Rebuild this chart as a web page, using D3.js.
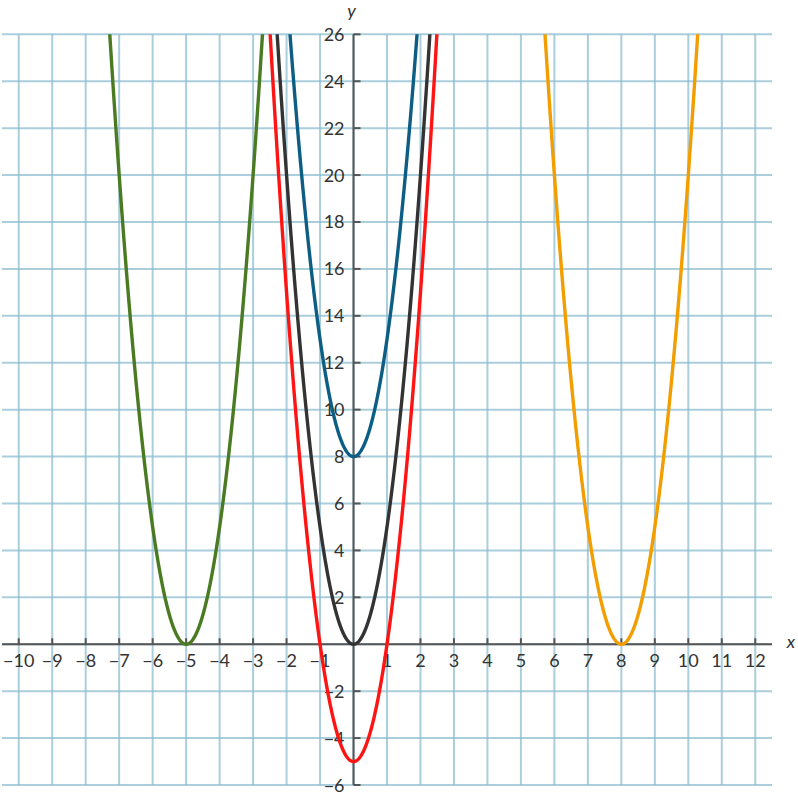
<!DOCTYPE html>
<html>
<head>
<meta charset="utf-8">
<script src="https://cdn.jsdelivr.net/npm/d3@7"></script>
<style>
  html, body { margin: 0; padding: 0; background: #fff; }
  svg { display: block; }
  text { font-family: Lato, "Open Sans", sans-serif; fill: #333; }
</style>
</head>
<body>
<div id="chart"></div>
<script>
// ---- data ----
const seriesNames = ["green", "red", "black", "blue", "orange"];
const vertexX = [-5, 0, 0, 0, 8];          // h in y = a(x-h)^2 + k
const vertexY = [0, -5, 0, 8, 0];          // k
const coefA   = [5, 5, 5, 5, 5];           // a
const seriesColors = ["#4a7a22", "#ff1414", "#333333", "#0d5e84", "#f29e00"];
const xTicks = [-10,-9,-8,-7,-6,-5,-4,-3,-2,-1,1,2,3,4,5,6,7,8,9,10,11,12];
const yTicks = [-6,-4,-2,2,4,6,8,10,12,14,16,18,20,22,24,26];
const xGrid = d3.range(-10, 13);
const yGrid = d3.range(-6, 27, 2);

const W = 798, H = 800;
const svg = d3.select("#chart").append("svg").attr("width", W).attr("height", H);

const x = d3.scaleLinear().domain([-10.5, 12.5]).range([2, 772]);
const y = d3.scaleLinear().domain([-6, 26]).range([785, 34.3]);

const fmt = v => (v < 0 ? "\u2212" : "") + Math.abs(v);

// grid
const grid = svg.append("g").attr("stroke", "#8dbdd0").attr("stroke-opacity", 0.75).attr("stroke-width", 2);
grid.selectAll("line.v").data(xGrid).join("line")
  .attr("x1", d => x(d)).attr("x2", d => x(d))
  .attr("y1", y(26)).attr("y2", y(-6));
grid.selectAll("line.h").data(yGrid).join("line")
  .attr("x1", x(-10.5)).attr("x2", x(12.5))
  .attr("y1", d => y(d)).attr("y2", d => y(d));

// axes
const axisColor = "#555";
svg.append("line").attr("x1", x(-10.5)).attr("x2", x(12.5)).attr("y1", y(0)).attr("y2", y(0))
  .attr("stroke", axisColor).attr("stroke-width", 2);
svg.append("line").attr("x1", x(0)).attr("x2", x(0)).attr("y1", y(26)).attr("y2", y(-6))
  .attr("stroke", axisColor).attr("stroke-width", 2);

svg.append("g").selectAll("line").data(xTicks).join("line")
  .attr("x1", d => x(d)).attr("x2", d => x(d)).attr("y1", y(0)).attr("y2", y(0) - 6)
  .attr("stroke", axisColor).attr("stroke-width", 2);
svg.append("g").selectAll("line").data(yTicks).join("line")
  .attr("x1", x(0)).attr("x2", x(0) + 7).attr("y1", d => y(d)).attr("y2", d => y(d))
  .attr("stroke", axisColor).attr("stroke-width", 2);

svg.append("g").selectAll("text").data(xTicks).join("text")
  .attr("x", d => x(d)).attr("y", y(0) + 23)
  .attr("text-anchor", "middle").attr("font-size", 18)
  .text(fmt);
svg.append("g").selectAll("text").data(yTicks).join("text")
  .attr("x", x(0) - 9).attr("y", d => y(d) + 6.5)
  .attr("text-anchor", "end").attr("font-size", 18)
  .text(fmt);

svg.append("text").attr("x", 791).attr("y", y(0) + 4).attr("text-anchor", "middle")
  .attr("font-size", 18).attr("font-style", "italic").text("x");
svg.append("text").attr("x", x(0) - 2).attr("y", 17).attr("text-anchor", "middle")
  .attr("font-size", 18).attr("font-style", "italic").text("y");

// curves
svg.append("defs").append("clipPath").attr("id", "clip").append("rect")
  .attr("x", x(-10.5)).attr("y", y(26)).attr("width", x(12.5) - x(-10.5)).attr("height", y(-6) - y(26));

const line = d3.line().x(d => x(d[0])).y(d => y(d[1]));
const curves = svg.append("g").attr("clip-path", "url(#clip)");
seriesNames.forEach((name, i) => {
  const h = vertexX[i], k = vertexY[i], a = coefA[i];
  const half = Math.sqrt((27 - k) / a);
  const pts = d3.range(h - half, h + half + 0.001, 0.01).map(t => [t, a * (t - h) * (t - h) + k]);
  curves.append("path").datum(pts)
    .attr("fill", "none").attr("stroke", seriesColors[i]).attr("stroke-width", 3.4)
    .attr("stroke-linejoin", "round")
    .attr("d", line);
});
</script>
</body>
</html>
